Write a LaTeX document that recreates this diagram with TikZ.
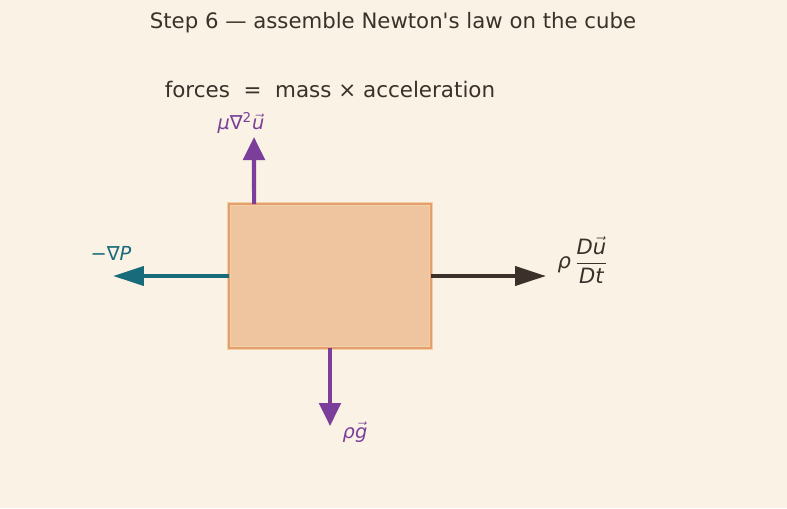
\documentclass[tikz,border=0pt]{standalone}
\usepackage{fontspec}
\setmainfont{DejaVu Sans}[Ligatures=TeXOff]
\usetikzlibrary{arrows.meta,calc}
\definecolor{bgcream}{HTML}{FAF2E4}
\definecolor{inkdark}{HTML}{3B302A}
\definecolor{cubefill}{HTML}{EEC59E}
\definecolor{cubeedge}{HTML}{E3A06C}
\definecolor{cubehalo}{HTML}{F3CFA8}
\definecolor{forcepurple}{HTML}{7B3F9B}
\definecolor{forceteal}{HTML}{186B7A}
\newcommand{\vecit}[1]{\ensuremath{\vec{\mbox{\itshape #1}}}}

\begin{document}
\begin{tikzpicture}[x=0.02cm, y=-0.02cm,
    vforce/.style={line width=2.3pt, -{Triangle[length=0.46cm, width=0.43cm]}},
    hforce/.style={line width=2.3pt, -{Triangle[length=0.62cm, width=0.38cm]}},
    flabel/.style={font=\fontsize{11}{13}\selectfont}]
    \fill[bgcream] (0,0) rectangle (787,508);
    \useasboundingbox (0,0) rectangle (787,508);
    \node[text=inkdark, font=\fontsize{12.1}{15}\selectfont] (title) at (393,23) {Step 6 — assemble Newton's law on the cube};
    \node[text=inkdark, font=\fontsize{12.2}{15}\selectfont] (subtitle) at (330,90) {forces\ \ =\ \ mass × acceleration};
    \node[draw=cubehalo, line width=2.6pt, fill=cubefill, minimum width=4.04cm, minimum height=2.88cm, inner sep=0pt, outer sep=0pt] (cube) at (330,276) {};
    \draw[cubeedge, line width=1.3pt] (cube.north west) rectangle (cube.south east);
    \coordinate (viscTip) at (254,137);
    \coordinate (presTip) at (113,276);
    \coordinate (accTip) at (546,276);
    \coordinate (gravTip) at (330,426);
    \draw[vforce, forcepurple] ($(cube.north west)+(25,0)$) -- (viscTip);
    \draw[hforce, forceteal] (cube.west) -- (presTip);
    \draw[hforce, inkdark] (cube.east) -- (accTip);
    \draw[vforce, forcepurple] (cube.south) -- (gravTip);
    \node[flabel, text=forcepurple] (viscLabel) at (241,123) {{\itshape μ}∇\textsuperscript{2}\vecit{u}};
    \node[flabel, text=forceteal] (presLabel) at (111,253) {−∇{\itshape P}};
    \node[flabel, text=inkdark, font=\fontsize{12}{14}\selectfont] (accLabel) at (583,260) {{\itshape ρ}\,$\displaystyle\frac{\mbox{\itshape D}\vecit{u}}{\mbox{\itshape Dt}}$};
    \node[flabel, text=forcepurple] (gravLabel) at (355,432) {{\itshape ρ}\vecit{g}};
\end{tikzpicture}
\end{document}
